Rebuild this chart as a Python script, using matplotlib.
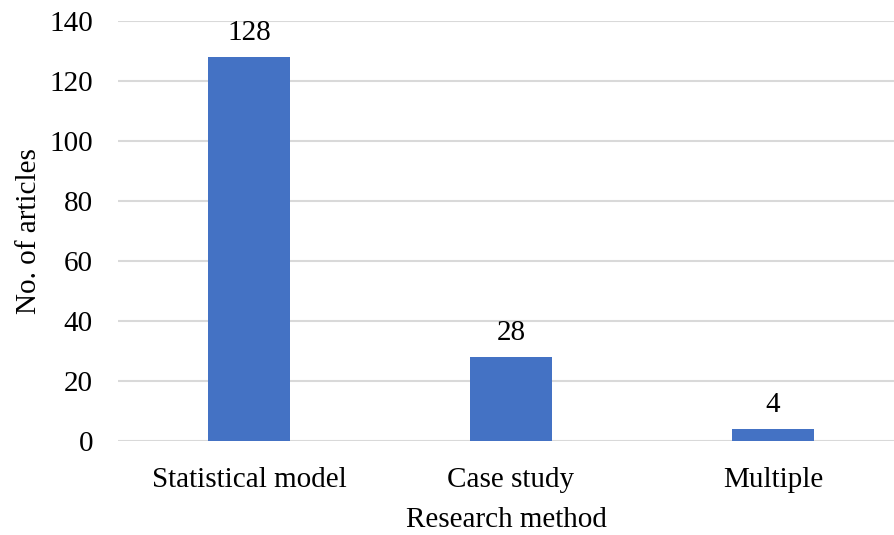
import matplotlib.pyplot as plt

plt.rcParams['font.family'] = ['Liberation Serif', 'DejaVu Serif']

methods = ["Statistical model", "Case study", "Multiple"]
articles = [128, 28, 4]
yticks = [0, 20, 40, 60, 80, 100, 120, 140]

fig = plt.figure(figsize=(8.94, 5.35), dpi=100)
ax = fig.add_axes([118 / 894, 94 / 535, 776 / 894, 420 / 535])

x = list(range(len(methods)))
bars = ax.bar(x, articles, width=0.313, color="#4472c4", zorder=3)
for b, v in zip(bars, articles):
    ax.annotate(str(v), (b.get_x() + b.get_width() / 2, v), xytext=(0, 8),
                textcoords="offset points", ha="center", va="bottom", fontsize=21)

ax.set_xlim(-0.5, 2.462)
ax.set_ylim(0, 140)
ax.set_yticks(yticks)
ax.set_xticks(x)
ax.set_xticklabels(methods)
ax.yaxis.grid(True, color="#d9d9d9", linewidth=1.5, zorder=0)
ax.tick_params(axis="both", length=0, labelsize=21)
ax.tick_params(axis="y", pad=18)
ax.tick_params(axis="x", pad=19)
for s in ax.spines.values():
    s.set_visible(False)

ax.set_xlabel("Research method", fontsize=21, labelpad=10)
ax.set_ylabel("No. of articles", fontsize=21, labelpad=5)

fig.savefig("out.png", dpi=100)
